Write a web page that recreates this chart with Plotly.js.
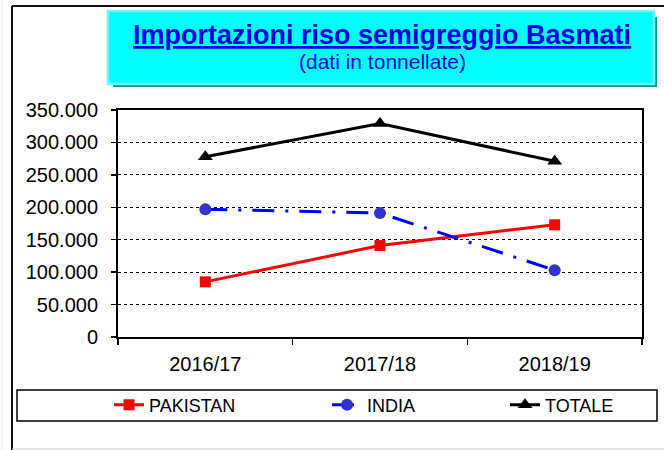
<!DOCTYPE html>
<html>
<head>
<meta charset="utf-8">
<script src="https://cdn.plot.ly/plotly-3.0.1.min.js"></script>
<style>html,body{margin:0;padding:0;background:#fff;}#chart{width:664px;height:450px;}</style>
</head>
<body>
<div id="chart"></div>
<script>
// ---- data ----
const categories = ["2016/17", "2017/18", "2018/19"];
const pakistan = [85000, 141000, 173000];
const india = [197000, 191000, 103000];
const totale = [278000, 329000, 271000];
const seriesNames = ["PAKISTAN", "INDIA", "TOTALE"];
const titleText = "Importazioni riso semigreggio Basmati";
const subtitleText = "(dati in tonnellate)";

// ---- geometry helpers (pixel -> paper) ----
const W = 664, H = 450;
const L = 118, R = 642, T = 110, B = 337;
const pw = R - L, ph = B - T;
const px = x => (x - L) / pw;
const py = y => (B - y) / ph;

const FONT = "Arial, 'Liberation Sans', sans-serif";

const traces = [
  {
    x: categories, y: pakistan, name: seriesNames[0], type: "scatter", mode: "lines+markers",
    line: {color: "#FF0000", width: 3},
    marker: {symbol: "square", size: 11, color: "#FF0000"},
    legend: "legend"
  },
  {
    x: categories, y: india, name: seriesNames[1], type: "scatter", mode: "lines+markers",
    line: {color: "#0000FF", width: 3, dash: "22px,11px,3px,11px"},
    marker: {symbol: "circle", size: 12, color: "#3333CC"},
    legend: "legend2"
  },
  {
    x: categories, y: totale, name: seriesNames[2], type: "scatter", mode: "lines+markers",
    line: {color: "#000000", width: 3},
    marker: {symbol: "triangle-up", size: 13, color: "#000000"},
    legend: "legend3"
  }
];

function rect(x0, y0, x1, y1, fill, line, lw) {
  return {type: "rect", xref: "paper", yref: "paper", x0: px(x0), x1: px(x1), y0: py(y1), y1: py(y0),
          fillcolor: fill, line: {color: line || "rgba(0,0,0,0)", width: lw || 0}, layer: "above"};
}
function seg(x0, y0, x1, y1, color, lw) {
  return {type: "line", xref: "paper", yref: "paper", x0: px(x0), x1: px(x1), y0: py(y0), y1: py(y1),
          line: {color: color, width: lw}};
}

const legendFont = {family: FONT, size: 18, color: "#000"};
const legY = py(405);
function leg(xpix) {
  return {orientation: "h", x: px(xpix), xanchor: "left", y: legY, yanchor: "middle",
          font: legendFont, bgcolor: "rgba(0,0,0,0)", borderwidth: 0, itemclick: false};
}

const layout = {
  width: W, height: H,
  margin: {l: L, r: W - R, t: T, b: H - B, pad: 0},
  paper_bgcolor: "#FFFFFF", plot_bgcolor: "#FFFFFF",
  separators: ",.",
  font: {family: FONT, color: "#000"},
  xaxis: {
    type: "category", range: [-0.5, 2.5], tickson: "boundaries",
    ticks: "outside", ticklen: 6, tickwidth: 1.5, tickcolor: "#000",
    showline: true, linecolor: "#000", linewidth: 2, mirror: true,
    showgrid: false, zeroline: false,
    tickfont: {family: FONT, size: 20, color: "#000"}, ticklabelstandoff: 8,
    fixedrange: true
  },
  yaxis: {
    range: [0, 350000], dtick: 50000, tick0: 0, tickformat: ",d",
    ticks: "outside", ticklen: 5, tickwidth: 1.5, tickcolor: "#000",
    showline: true, linecolor: "#000", linewidth: 2, mirror: true,
    showgrid: true, gridcolor: "#000", gridwidth: 1, griddash: "dot",
    zeroline: false,
    tickfont: {family: FONT, size: 20, color: "#000"}, ticklabelstandoff: 9,
    fixedrange: true
  },
  showlegend: true,
  legend: leg(109),
  legend2: leg(327),
  legend3: leg(505),
  shapes: [
    // outer chart frame
    seg(12, 6, 700, 6, "#111", 2),
    seg(12, 6, 12, 460, "#111", 2),
    seg(12, 449, 700, 449, "#CCCCCC", 1),
    seg(2, 0, 2, 460, "#E6E6E6", 1),
    // title box shadow + box
    rect(113, 17, 657, 87, "#009999"),
    rect(108, 11, 654, 84, "#00FFFF", "#66FFFF", 2.5),
    // legend box
    rect(17, 390, 657, 421, "rgba(0,0,0,0)", "#000", 1.5)
  ],
  annotations: [
    {xref: "paper", yref: "paper", x: px(382), y: py(35), xanchor: "center", yanchor: "middle",
     text: "<u><b>" + titleText + "</b></u>", showarrow: false,
     font: {family: FONT, size: 27, color: "#0000E0"}},
    {xref: "paper", yref: "paper", x: px(382), y: py(62), xanchor: "center", yanchor: "middle",
     text: subtitleText, showarrow: false,
     font: {family: FONT, size: 21, color: "#0000E0"}}
  ]
};

Plotly.newPlot("chart", traces, layout, {displayModeBar: false, staticPlot: true});
</script>
</body>
</html>
